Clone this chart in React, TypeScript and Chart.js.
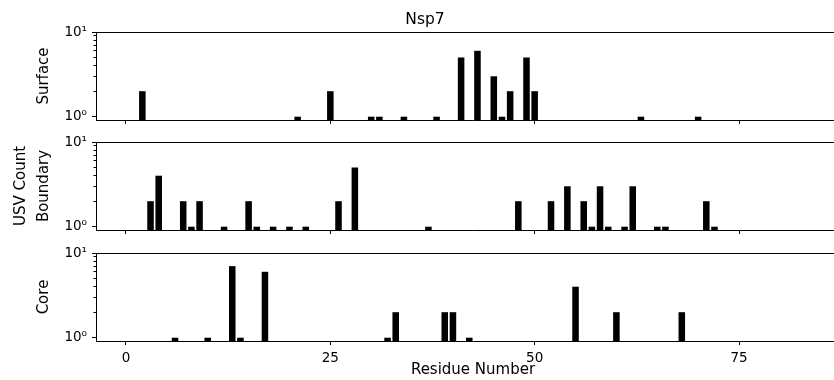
import React, { useEffect, useRef } from 'react';
import { Chart, registerables } from 'chart.js';

Chart.register(...registerables);

// ---- data ----
const surfaceResidues = [2, 21, 25, 30, 31, 34, 38, 41, 43, 45, 46, 47, 49, 50, 63, 70];
const surfaceCounts = [2, 1, 2, 1, 1, 1, 1, 5, 6, 3, 1, 2, 5, 2, 1, 1];
const boundaryResidues = [3, 4, 7, 8, 9, 12, 15, 16, 18, 20, 22, 26, 28, 37, 48, 52, 54, 56, 57, 58, 59, 61, 62, 65, 66, 71, 72];
const boundaryCounts = [2, 4, 2, 1, 2, 1, 2, 1, 1, 1, 1, 2, 5, 1, 2, 2, 3, 2, 1, 3, 1, 1, 3, 1, 1, 2, 1];
const coreResidues = [6, 10, 13, 14, 17, 32, 33, 39, 40, 42, 55, 60, 68];
const coreCounts = [1, 1, 7, 1, 6, 1, 2, 2, 2, 1, 4, 2, 2];
const xTicks = [0, 25, 50, 75];
const yMajorTicks = [1, 10];
const yMinorTicks = [2, 3, 4, 5, 6, 7, 8, 9];
const yTickLabels: Record<number, string> = { 1: '10⁰', 10: '10¹' };
const chartTitle = 'Nsp7';
const xTitle = 'Residue Number';
const sharedYTitle = 'USV Count';

const FONT = "'DejaVu Sans', 'Liberation Sans', sans-serif";
const CANVAS_W = 850;
const X_MIN = -3.67;
const X_MAX = 88.58;
const Y_MIN = 0.914;
const Y_MAX = 10;

type Kind = 'top' | 'mid' | 'bottom';
interface PanelSpec {
  title: string | string[];
  residues: number[];
  counts: number[];
  top: number;
  height: number;
  kind: Kind;
}

const panels: PanelSpec[] = [
  { title: 'Surface', residues: surfaceResidues, counts: surfaceCounts, top: 0, height: 124, kind: 'top' },
  { title: [sharedYTitle, 'Boundary'], residues: boundaryResidues, counts: boundaryCounts, top: 134, height: 100, kind: 'mid' },
  { title: 'Core', residues: coreResidues, counts: coreCounts, top: 245, height: 135, kind: 'bottom' },
];

const framePlugin = {
  id: 'frame',
  afterDraw(chart: any) {
    const { ctx, chartArea } = chart;
    const y = chart.scales.y;
    const { left, top, right } = chartArea;
    ctx.save();
    ctx.strokeStyle = '#000';
    ctx.lineWidth = 1;
    ctx.beginPath();
    const ty = Math.round(top - 0.5) + 0.5;
    ctx.moveTo(left, ty);
    ctx.lineTo(right, ty);
    ctx.stroke();
    ctx.beginPath();
    for (const v of yMinorTicks) {
      const py = Math.round(y.getPixelForValue(v) - 0.5) + 0.5;
      ctx.moveTo(left - 2.5, py);
      ctx.lineTo(left, py);
    }
    ctx.stroke();
    ctx.restore();
  },
};

function makeConfig(spec: PanelSpec): any {
  const isBottom = spec.kind === 'bottom';
  const isTop = spec.kind === 'top';
  const singleLine = typeof spec.title === 'string';
  return {
    type: 'bar',
    data: {
      datasets: [
        {
          data: spec.residues.map((r, i) => ({ x: r, y: spec.counts[i] })),
          backgroundColor: '#000',
          borderWidth: 0,
          barPercentage: 0.8,
          categoryPercentage: 1,
        },
      ],
    },
    options: {
      responsive: false,
      animation: false,
      layout: { padding: { top: isTop ? 0 : 8, left: 0, right: 0, bottom: 0 } },
      plugins: {
        legend: { display: false },
        tooltip: { enabled: false },
        title: {
          display: isTop,
          text: chartTitle,
          color: '#000',
          font: { family: FONT, size: 15.5, weight: 'normal' },
          padding: { top: 11, bottom: 2.4 },
        },
      },
      scales: {
        x: {
          type: 'linear',
          min: X_MIN,
          max: X_MAX,
          offset: false,
          afterBuildTicks: (s: any) => {
            s.ticks = xTicks.map((v) => ({ value: v }));
          },
          afterFit: (s: any) => {
            s.height = isBottom ? 39 : 4;
            s.paddingLeft = 0;
            s.paddingRight = 0;
            s.paddingTop = 0;
            s.paddingBottom = 0;
          },
          grid: {
            display: true,
            drawOnChartArea: false,
            drawTicks: true,
            tickLength: 4,
            tickColor: '#000',
            offset: false,
          },
          border: { display: true, color: '#000', width: 1 },
          ticks: {
            display: isBottom,
            color: '#000',
            padding: 5,
            maxRotation: 0,
            autoSkip: false,
            font: { family: FONT, size: 13.5 },
            callback: (v: any) => String(v),
          },
          title: {
            display: isBottom,
            text: xTitle,
            color: '#000',
            font: { family: FONT, size: 15 },
            padding: { top: 0, bottom: 1 },
          },
        },
        y: {
          type: 'logarithmic',
          min: Y_MIN,
          max: Y_MAX,
          afterBuildTicks: (s: any) => {
            s.ticks = yMajorTicks.map((v) => ({ value: v, major: true }));
          },
          afterFit: (s: any) => {
            s.width = 96;
            s.paddingLeft = 0;
            s.paddingRight = 0;
            s.paddingTop = 0;
            s.paddingBottom = 0;
          },
          grid: {
            display: true,
            drawOnChartArea: false,
            drawTicks: true,
            tickLength: 4,
            tickColor: '#000',
          },
          border: { display: true, color: '#000', width: 1 },
          ticks: {
            color: '#000',
            padding: 5,
            autoSkip: false,
            font: { family: FONT, size: 13.5 },
            callback: (v: any) => yTickLabels[Number(v)] ?? '',
          },
          title: {
            display: true,
            text: spec.title,
            color: '#000',
            font: { family: FONT, size: 15, lineHeight: '23px' },
            padding: { top: singleLine ? 32.5 : 9.5, bottom: 0 },
          },
        },
      },
    },
    plugins: [framePlugin],
  };
}

function Panel({ spec }: { spec: PanelSpec }) {
  const ref = useRef<HTMLCanvasElement | null>(null);
  useEffect(() => {
    if (!ref.current) return;
    const chart = new Chart(ref.current, makeConfig(spec));
    return () => chart.destroy();
  }, [spec]);
  return (
    <canvas
      ref={ref}
      width={CANVAS_W}
      height={spec.height}
      style={{
        position: 'absolute',
        left: 0,
        top: spec.top,
        width: CANVAS_W,
        height: spec.height,
        display: 'block',
      }}
    />
  );
}

export default function App() {
  useEffect(() => {
    document.body.style.margin = '0';
  }, []);
  return (
    <div
      style={{
        position: 'fixed',
        left: 0,
        top: 0,
        width: 834,
        height: 380,
        overflow: 'hidden',
        background: '#fff',
      }}
    >
      {panels.map((p, i) => (
        <Panel key={i} spec={p} />
      ))}
    </div>
  );
}
